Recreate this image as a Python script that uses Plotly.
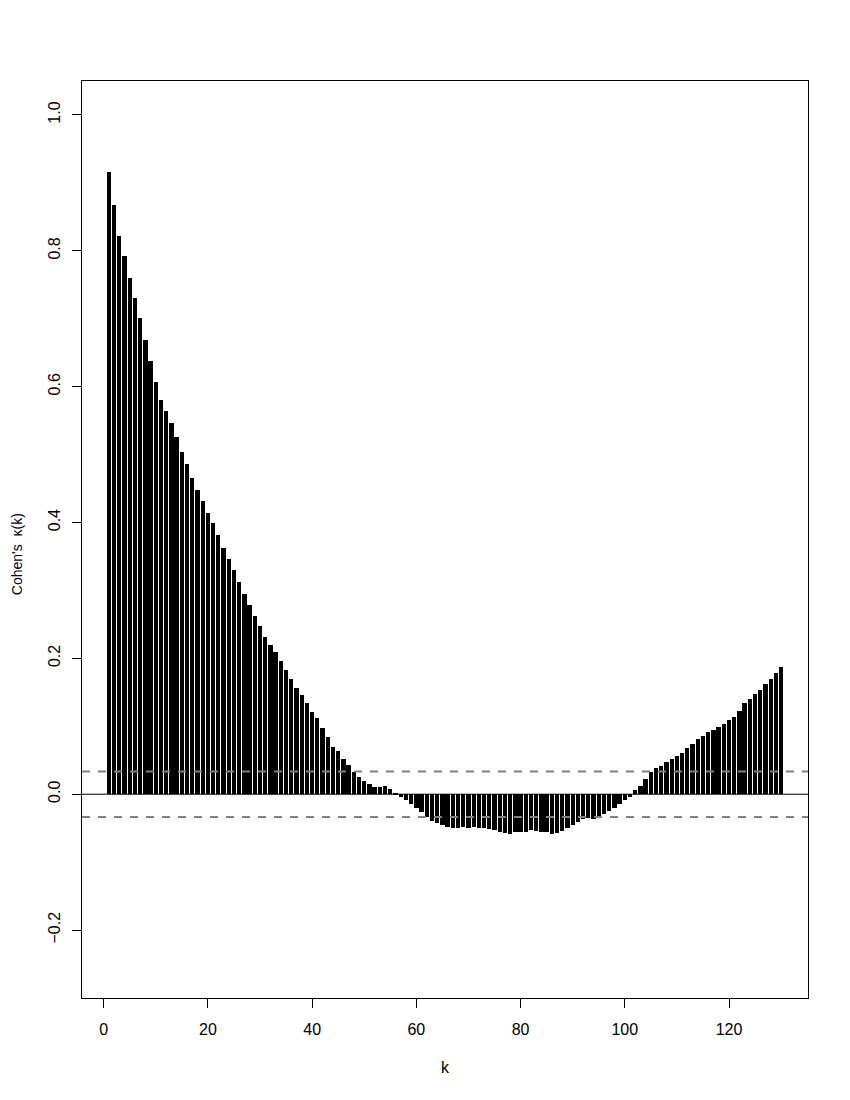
import plotly.graph_objects as go

# ====================== DATA ======================
LAGS = list(range(1, 131))
KAPPA = [
    0.916, 0.867, 0.822, 0.792, 0.760, 0.731, 0.701, 0.668, 0.638, 0.607,
    0.580, 0.564, 0.547, 0.526, 0.504, 0.486, 0.466, 0.448, 0.431, 0.414,
    0.399, 0.382, 0.363, 0.347, 0.330, 0.313, 0.295, 0.278, 0.262, 0.248,
    0.231, 0.219, 0.209, 0.196, 0.183, 0.170, 0.157, 0.146, 0.135, 0.121,
    0.112, 0.098, 0.084, 0.070, 0.064, 0.052, 0.043, 0.032, 0.026, 0.020,
    0.015, 0.011, 0.010, 0.012, 0.008, 0.001, -0.004, -0.008, -0.015, -0.020,
    -0.026, -0.033, -0.039, -0.042, -0.046, -0.048, -0.050, -0.050, -0.048, -0.049,
    -0.048, -0.049, -0.050, -0.051, -0.053, -0.055, -0.057, -0.058, -0.056, -0.056,
    -0.055, -0.053, -0.054, -0.055, -0.056, -0.059, -0.057, -0.054, -0.050, -0.046,
    -0.041, -0.037, -0.035, -0.037, -0.033, -0.029, -0.024, -0.020, -0.014, -0.009,
    -0.004, 0.006, 0.012, 0.023, 0.032, 0.039, 0.041, 0.047, 0.052, 0.056,
    0.061, 0.068, 0.074, 0.081, 0.085, 0.092, 0.094, 0.099, 0.104, 0.110,
    0.114, 0.123, 0.134, 0.140, 0.147, 0.154, 0.162, 0.169, 0.179, 0.188,
]
BOUNDS = [0.0335, -0.0335]
ZERO = 0.0

X_TICKS = [0, 20, 40, 60, 80, 100, 120]
Y_TICKS = [-0.2, 0.0, 0.2, 0.4, 0.6, 0.8, 1.0]
Y_TICK_TEXT = ["\u22120.2", "0.0", "0.2", "0.4", "0.6", "0.8", "1.0"]

FONT = "Liberation Sans, Arial, sans-serif"

# ====================== BUILD CHART ======================
fig = go.Figure()

fig.add_trace(go.Bar(
    x=LAGS, y=KAPPA, width=0.83,
    marker=dict(color="black", line=dict(width=0)),
    showlegend=False,
))

fig.add_hline(y=ZERO, line=dict(color="black", width=1))
for b in BOUNDS:
    fig.add_hline(y=b, line=dict(color="#808080", width=2, dash="8px,8px"))

axis_common = dict(
    showline=True, linecolor="black", linewidth=1, mirror=True,
    ticks="outside", ticklen=9, tickcolor="black", tickwidth=1,
    showgrid=False, zeroline=False,
    tickfont=dict(family=FONT, size=16, color="black"),
)

fig.update_xaxes(range=[-4.16, 135.16], tickvals=X_TICKS,
                 ticklabelstandoff=8, **axis_common)
fig.update_yaxes(range=[-0.30, 1.05], tickvals=Y_TICKS, ticktext=Y_TICK_TEXT,
                 tickangle=-90, ticklabelstandoff=6, **axis_common)

fig.add_annotation(text="k", xref="paper", yref="paper", x=0.5, y=-0.0763,
                   xanchor="center", yanchor="middle", showarrow=False,
                   font=dict(family=FONT, size=16, color="black"))
fig.add_annotation(text="Cohen's  \u03ba(k)", xref="paper", yref="paper",
                   x=-0.0895, y=0.484, xanchor="center", yanchor="middle",
                   textangle=-90, showarrow=False,
                   font=dict(family=FONT, size=14, color="black"))

# page body has an 8px margin, so the figure is a bit smaller than the window
fig.update_layout(
    width=842, height=1092,
    margin=dict(l=74, r=42, t=73, b=102),
    plot_bgcolor="white", paper_bgcolor="white",
    bargap=0,
)

fig.write_html("out.html")
